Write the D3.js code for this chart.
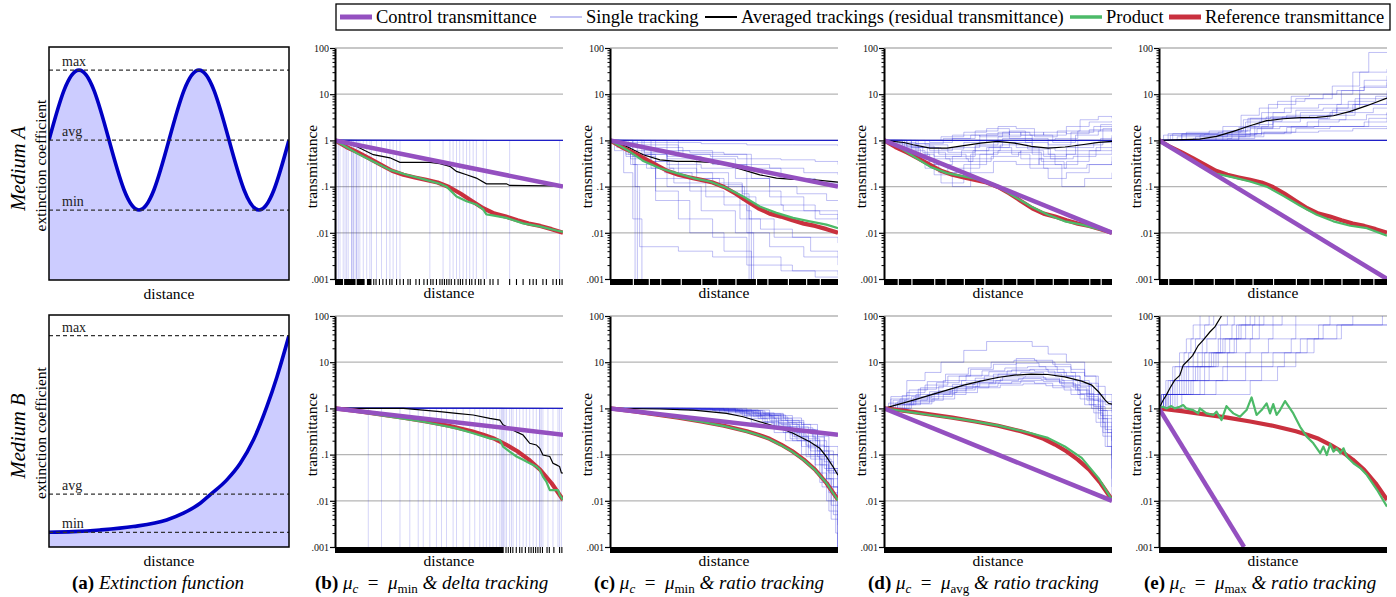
<!DOCTYPE html>
<html>
<head>
<meta charset="utf-8">
<script src="https://cdn.jsdelivr.net/npm/d3@7"></script>
<style>
  body { margin: 0; background: #fff; }
  svg { display: block; }
  svg text { font-family: "Liberation Serif", Tinos, "Times New Roman", "DejaVu Serif", serif; }
</style>
</head>
<body>
<svg id="chart" width="1396" height="597"></svg>
<script>
// ================= data =================
const legendNames = ["Control transmittance", "Single tracking",
  "Averaged trackings (residual transmittance)", "Product", "Reference transmittance"];
const yTicks = [100, 10, 1, 0.1, 0.01, 0.001];
const yTickLabels = ["100", "10", "1", ".1", ".01", ".001"];
const gridValues = [100, 10, 1, 0.1, 0.01];

// (a) extinction functions, distance 0..100
const extDistA = [0, 6.25, 12.5, 18.75, 25, 31.25, 37.5, 43.75, 50, 56.25, 62.5, 68.75, 75, 81.25, 87.5, 93.75, 100];
const extMuA = [2, 2.71, 3, 2.71, 2, 1.29, 1, 1.29, 2, 2.71, 3, 2.71, 2, 1.29, 1, 1.29, 2];
const extDistB = [0, 10, 21.2, 35.1, 49, 56, 63, 67.1, 74.1, 79.7, 85.2, 90.8, 95, 100];
const extMuB = [1, 1.05, 1.16, 1.39, 1.84, 2.3, 2.98, 3.55, 4.57, 5.7, 7.3, 9.57, 11.6, 14.4];
const levelNames = ["min", "avg", "max"];
const levelsA = [1, 2, 3];
const levelsB = [1, 3.6, 14.4];

// reference transmittance [distance, T]
const refA = [[0,1],[5,.72],[10,.55],[15,.41],[20,.30],[25,.22],[30,.18],[35,.158],[40,.14],[45,.123],[50,.098],
  [55,.071],[60,.049],[65,.034],[70,.026],[75,.0224],[80,.0186],[85,.0158],[90,.0141],[95,.012],[100,.01]];
const refB = [[0,1],[10,.87],[20,.74],[30,.63],[40,.52],[50,.42],[60,.32],[65,.27],[70,.22],[75,.165],
  [80,.118],[85,.078],[90,.047],[95,.024],[100,.0105]];

// control transmittance
const ctrlA_min = [[0,1],[100,0.1]];
const ctrlA_avg = [[0,1],[100,0.01]];
const ctrlA_max = [[0,1],[100,0.001]];
const ctrlB_min = [[0,1],[100,0.27]];
const ctrlB_avg = [[0,1],[100,0.01]];
const ctrlB_max = [[0,1],[37.3,0.001]];

// product
const prodA_b = [[0,1],[9.5,.53],[16.8,.35],[24.1,.23],[31.4,.18],[38.7,.145],[46,.115],[48.9,.1],[50.4,.085],[53.3,.061],
  [57.7,.048],[62,.041],[65,.032],[66.4,.025],[67.9,.0245],[75.2,.021],[82.5,.016],[89.8,.0138],[97.1,.0112],[100,.0105]];
const prodA_c = [[0,1],[7.3,.63],[14.6,.36],[21.9,.25],[29.2,.196],[36.5,.153],[43.8,.129],[51.1,.093],[58.4,.061],
  [65.7,.037],[73,.027],[80.3,.021],[87.6,.0177],[94.9,.015],[100,.0126]];
const prodA_d = [[0,1],[5.5,.77],[12.9,.45],[20.2,.27],[27.6,.196],[35,.166],[42.4,.14],[49.8,.1],[57.2,.061],
  [64.5,.037],[71.9,.0245],[79.3,.0177],[86.7,.015],[94.1,.012],[100,.01]];
const prodA_e = [[0,1],[10.6,.49],[17.9,.28],[25.2,.19],[32.6,.158],[39.9,.129],[47.2,.1],[54.5,.063],[61.9,.0385],
  [69.2,.0245],[76.5,.0177],[83.9,.0142],[91.2,.0126],[100,.0087]];
const prodB_b = [[0,1],[24.1,.66],[38.7,.515],[46,.437],[53.3,.37],[60.6,.29],[67.9,.225],[72.3,.207],[73.7,.149],
  [76.6,.116],[79.6,.091],[82.5,.077],[85.4,.065],[88.3,.055],[89.8,.047],[91.2,.0335],[92.7,.026],[94.2,.017],
  [97.8,.017],[98.5,.0135],[100,.0105]];
const prodB_c = [[0,1],[10,.87],[20,.73],[30,.62],[40,.515],[50,.415],[60,.315],[65,.265],[70,.215],[75,.16],
  [80,.115],[85,.076],[90,.046],[95,.024],[100,.0102]];
const prodB_d = [[0,1],[20.2,.72],[35,.57],[49.8,.43],[64.5,.29],[71.9,.23],[79.3,.15],[86.7,.085],[94.1,.031],[100,.0105]];
const prodB_e = [[0,1],[1.8,1.09],[3.2,1],[5.4,1.12],[6.9,1],[9.1,1.09],[10.6,1.18],[12,1],[15,.92],[17.2,.78],[17.9,1],
  [20.8,.78],[23.8,.72],[25.2,.85],[27.4,.56],[29.6,1.12],[31.1,.92],[32.6,.78],[35.5,.66],[38.4,.92],[40.6,1.73],
  [42.8,.72],[45,.92],[47.2,1.28],[48.7,.78],[50.1,1.24],[51.6,.72],[53.1,.92],[55.3,1.44],[58.9,.78],[61.9,.40],
  [64.8,.245],[67.7,.176],[70.7,.107],[72.1,.149],[73.6,.098],[75.1,.17],[76.5,.116],[78,.137],[79.5,.107],
  [80.9,.137],[82.4,.09],[85.3,.065],[88.3,.051],[91.2,.036],[95.6,.0173],[100,.0075]];

// averaged trackings
const avgA_b = [[0,1],[9.5,.74],[16.8,.49],[24.1,.42],[28.5,.334],[41.6,.334],[46,.313],[50.4,.274],[53.3,.213],
  [57.7,.18],[62,.153],[66.4,.115],[75.2,.115],[76.6,.106],[100,.103]];
const avgA_c = [[0,1],[7.3,.74],[14.6,.49],[21.9,.38],[29.2,.35],[36.5,.35],[43.8,.333],[51.1,.295],[58.4,.23],
  [65.7,.18],[73,.153],[80.3,.143],[87.6,.143],[100,.125]];
const avgA_d = [[0,1],[8.7,.9],[12.8,.805],[20.2,.68],[27.6,.68],[35,.77],[42.4,.875],[49.8,.95],[57.2,.875],
  [64.6,.74],[72,.68],[79.4,.72],[86.8,.805],[94.2,.905],[100,.95]];
const avgA_e = [[0,1],[17.9,1.07],[25.2,1.22],[32.6,1.57],[39.9,2.08],[47.2,2.67],[54.5,2.94],[61.9,3.1],
  [69.2,3.15],[76.5,3.42],[83.9,4.25],[91.2,5.64],[100,8.26]];
const avgB_b = [[0,1],[30,1],[38.7,.92],[46,.85],[53.3,.78],[60.6,.72],[67.9,.61],[72.3,.56],[73.7,.44],[76.6,.37],
  [79.6,.31],[82.5,.265],[85.4,.176],[88.3,.162],[89.8,.137],[91.2,.098],[94.2,.091],[95.6,.065],[97.1,.06],
  [98.5,.055],[99.3,.04],[100,.04]];
const avgB_c = [[0,1],[21.9,.97],[36.5,.92],[51.1,.78],[58.4,.66],[65.7,.515],[73,.40],[80.3,.29],[87.6,.19],
  [92,.137],[94.9,.09],[97.8,.055],[100,.036]];
const avgB_d = [[0,1],[12.9,1.51],[20.2,1.94],[27.6,2.49],[35,3.19],[42.4,3.89],[49.8,4.67],[57.2,5.24],[64.5,5.5],
  [71.9,5.42],[79.3,4.82],[86.7,3.89],[91.1,3.19],[94.1,2.29],[97,1.51],[98.5,1.28],[100,1.24]];
const avgB_e = [[0,1],[1.8,1.5],[3.2,1.94],[4.7,2.7],[6.9,4.1],[9.1,5.2],[10.6,8.6],[12.8,11],[14.8,14.1],
  [17.2,23],[19.4,30],[22.3,45],[24.5,58],[27.4,100]];

// delta tracking: distance at which each single tracking dropped to zero
const deltaEndA = [0.7,1.5,2.2,3.6,4.4,5.1,5.8,7.3,7.3,8,8,8.8,9.5,9.5,10.2,10.9,12.4,13.9,15.3,16,18.2,20.4,22.6,
  24.1,25.5,27,28.5,41.6,47.4,50.4,51.8,53.3,54.7,56.2,57.7,59.1,60.6,62,65,66.4,76.6,98.5];
const deltaEndB = [14.6,20.4,28.5,32.8,36.5,38.7,41.6,44.5,46.7,48.9,51.8,53.3,56.2,59.1,61.3,63.5,65,66.4,67.9,
  69.3,70.8,72.3,73,73.7,73.7,74.5,75.2,76.6,77.4,78.1,79.6,81,82.5,83.9,85.4,86.9,88.3,89.8,89.8,90.5,91.2,93.4,
  95.6,97.8,98.5,99.3];

// ratio tracking: single trackings as [distance, T] steps
const tracksA_c = [
  [[0,1],[3,.8],[8,.5],[11,1e-4]],
  [[0,1],[5,.7],[9,.3],[12,1e-4]],
  [[0,1],[2,.6],[6,.2],[10,.02],[14,1e-4]],
  [[0,1],[6,.75],[15,.55],[25,.45],[40,.4],[55,.3],[70,.25],[85,.2],[100,.18]],
  [[0,1],[4,.85],[12,.7],[20,.6],[35,.55],[50,.5],[62,.4],[75,.38],[90,.35],[100,.3]],
  [[0,1],[8,.6],[18,.35],[30,.2],[45,.12],[58,.05],[61,1e-4]],
  [[0,1],[10,.45],[20,.15],[35,.08],[50,.04],[60,.01],[63,1e-4]],
  [[0,1],[5,.8],[15,.5],[25,.3],[40,.25],[55,.15],[70,.06],[85,.03],[100,.02]],
  [[0,1],[12,.5],[25,.1],[40,.03],[55,.01],[70,.005],[85,.003],[100,.002]],
  [[0,1],[7,.5],[20,.05],[35,.01],[50,.004],[62,1e-4]],
  [[0,1],[15,.8],[30,.6],[45,.5],[60,.25],[75,.15],[90,.12],[100,.1]],
  [[0,1],[4,.9],[20,.9],[40,.85],[60,.8],[80,.8],[100,.75]],
  [[0,1],[10,.3],[20,.08],[30,.02],[45,.008],[60,.003],[75,.0015],[90,.0011],[100,.0011]],
  [[0,1],[18,.25],[28,.12],[42,.06],[57,.02],[72,.008],[88,.004],[100,.003]],
  [[0,1],[25,.4],[38,.2],[52,.08],[60,.03],[62,1e-4]],
  [[0,1],[30,.5],[45,.3],[60,.08],[75,.04],[90,.02],[100,.015]],
  [[0,1],[3,.7],[9,.4],[16,.25],[24,.2],[36,.15],[48,.11],[58,.07],[61,.02],[66,.012],[80,.008],[100,.006]],
  [[0,1],[2,.9],[7,.45],[11,.1],[13,.005],[30,.004],[45,.003],[60,.002],[80,.0015],[100,.0012]],
  [[0,1],[20,.7],[32,.5],[44,.45],[56,.4],[62,.15],[70,.1],[82,.07],[95,.05],[100,.05]],
  [[0,1],[14,.35],[26,.25],[38,.15],[50,.1],[59,.06],[64,.04],[76,.03],[92,.025],[100,.02]]
];
const tracksA_d = [
  [[0,1],[8,.8],[15,.5],[22,.3],[30,.45],[40,.8],[50,1.2],[60,1.5],[70,1.3],[80,2],[90,2.5],[100,2.6]],
  [[0,1],[10,.6],[18,.25],[25,.12],[35,.3],[45,.7],[55,.9],[65,.5],[75,.3],[85,.6],[95,1.1],[100,1.2]],
  [[0,1],[6,.85],[20,.6],[30,.7],[42,1.3],[55,1.6],[62,1.1],[72,.8],[82,1.5],[92,2],[100,2.1]],
  [[0,1],[12,.5],[20,.3],[28,.2],[38,.5],[48,.9],[58,.7],[68,.3],[78,.1],[88,.15],[100,.2]],
  [[0,1],[15,.7],[25,.65],[35,.9],[45,1.4],[55,1.1],[65,.7],[75,.6],[85,1],[100,1.3]],
  [[0,1],[8,.65],[16,.35],[24,.2],[32,.25],[42,.5],[50,.6],[60,.4],[70,.25],[80,.35],[90,.5],[100,.6]],
  [[0,1],[20,.9],[30,1.1],[40,1.6],[50,2],[58,1.8],[66,1.2],[76,1.6],[86,2.8],[94,3.3],[100,3]],
  [[0,1],[10,.75],[22,.45],[34,.6],[46,.7],[56,.5],[64,.25],[72,.15],[80,.2],[90,.3],[100,.45]],
  [[0,1],[5,.9],[14,.4],[22,.18],[30,.1],[38,.2],[48,.35],[58,.3],[68,.4],[80,.7],[92,.9],[100,.8]],
  [[0,1],[18,.8],[28,.55],[40,.75],[52,1.1],[62,.9],[72,.5],[84,.8],[96,1.8],[100,1.9]],
  [[0,1],[25,1.2],[35,1.5],[45,1.8],[55,1.3],[65,1],[75,1.1],[85,1.6],[95,2.2],[100,2.2]],
  [[0,1],[12,.7],[24,.5],[36,.4],[48,.55],[60,.6],[70,.45],[80,.5],[90,.6],[100,.9]],
  [[0,1],[14,.85],[26,1.1],[38,1.3],[50,1.5],[60,1.3],[70,1.5],[80,1.4],[90,1.7],[100,1.5]],
  [[0,1],[9,.7],[19,.4],[29,.35],[39,.6],[51,.8],[63,.65],[73,.4],[83,.45],[93,.7],[100,.7]],
  [[0,1],[30,1.3],[42,1.2],[52,1.5],[64,1.3],[74,.9],[84,1.3],[94,1.6],[100,1.8]],
  [[0,1],[7,.75],[17,.55],[27,.4],[37,.35],[47,.45],[59,.55],[69,.35],[79,.25],[89,.3],[100,.35]]
];
const tracksA_e = [
  [[0,1],[10,1.4],[30,1.4],[45,2],[60,2],[80,2],[100,2]],
  [[0,1],[5,1.3],[25,1.3],[35,1.9],[50,3],[65,3],[75,4],[85,6],[100,7]],
  [[0,1],[8,1.2],[30,1.5],[38,2.5],[45,4],[55,5],[70,6],[80,12],[90,20],[100,25]],
  [[0,1],[15,1.1],[32,1.6],[40,3],[48,6],[60,8],[72,10],[85,30],[92,80],[100,80]],
  [[0,1],[20,1.05],[35,1.3],[45,1.5],[60,1.8],[75,2],[90,2.5],[100,3]],
  [[0,1],[12,1.5],[28,2],[36,3.5],[44,5],[52,7],[64,8],[76,15],[88,30],[100,35]],
  [[0,1],[25,1.2],[40,1.8],[50,2.5],[62,3],[74,3.5],[86,6],[100,10]],
  [[0,1],[18,1.3],[34,1.3],[42,1.4],[58,2],[70,2.8],[82,4],[94,5],[100,5]],
  [[0,1],[30,1.1],[42,2.2],[50,4],[58,9],[66,10],[78,12],[90,15],[100,18]],
  [[0,1],[6,1.4],[22,1.6],[37,2.8],[47,3.2],[62,4],[78,5],[88,10],[100,12]],
  [[0,1],[35,1.2],[46,1.5],[56,1.9],[68,2],[80,2],[92,3],[100,4]],
  [[0,1],[10,1.35],[40,1.4],[55,1.5],[70,1.6],[85,1.8],[100,1.9]],
  [[0,1],[4,1.4],[26,1.5],[36,2],[44,2.6],[54,3.2],[66,3.4],[76,4.5],[86,8],[100,9]],
  [[0,1],[16,1.2],[38,2],[48,3],[56,3.5],[68,3.5],[78,6],[88,14],[100,20]],
  [[0,1],[2,1.3],[20,1.35],[43,1.8],[53,2],[65,2.5],[79,2.8],[91,3.6],[100,4]],
  [[0,1],[28,1.6],[39,3],[49,3.2],[60,4.5],[72,5],[83,7],[95,9],[100,9]]
];
const tracksB_c = [
  [[0,1],[30,.97],[50,.9],[60,.75],[70,.55],[78,.35],[85,.2],[92,.08],[97,.02],[100,.005]],
  [[0,1],[40,.95],[55,.8],[65,.6],[73,.4],[80,.25],[87,.1],[93,.03],[97,.008],[100,.001]],
  [[0,1],[25,.98],[45,.9],[58,.7],[68,.5],[76,.3],[84,.15],[90,.06],[95,.02],[100,.01]],
  [[0,1],[35,.9],[52,.75],[62,.5],[72,.3],[80,.2],[88,.12],[94,.05],[100,.03]],
  [[0,1],[45,.92],[60,.8],[70,.65],[78,.5],[85,.3],[91,.12],[96,.04],[100,.02]],
  [[0,1],[38,.95],[55,.85],[66,.7],[75,.45],[83,.25],[90,.1],[95,.03],[98,.005],[100,.0008]],
  [[0,1],[50,.95],[62,.8],[72,.6],[80,.4],[87,.22],[92,.1],[96,.05],[100,.04]],
  [[0,1],[30,.93],[48,.82],[60,.6],[69,.38],[77,.2],[84,.1],[90,.04],[95,.01],[99,.002],[100,.0005]],
  [[0,1],[55,.9],[66,.75],[76,.5],[84,.35],[90,.2],[95,.1],[100,.06]],
  [[0,1],[42,.97],[58,.88],[68,.72],[77,.55],[85,.35],[91,.15],[96,.03],[100,.003]],
  [[0,1],[33,.96],[52,.86],[63,.66],[72,.42],[79,.22],[86,.09],[92,.025],[96,.006],[100,.001]],
  [[0,1],[60,.92],[70,.7],[80,.45],[88,.28],[94,.15],[100,.09]],
  [[0,1],[48,.9],[64,.7],[74,.4],[82,.2],[88,.08],[93,.02],[97,.004],[100,.0006]],
  [[0,1],[36,.98],[56,.9],[67,.78],[76,.62],[84,.45],[91,.25],[96,.1],[100,.05]],
  [[0,1],[28,.95],[46,.86],[59,.68],[67,.52],[74,.36],[81,.24],[87,.14],[92,.06],[96,.015],[100,.004]],
  [[0,1],[44,.94],[57,.78],[66,.62],[74,.48],[82,.3],[89,.16],[94,.07],[98,.02],[100,.008]],
  [[0,1],[52,.93],[65,.76],[75,.55],[83,.38],[89,.24],[94,.12],[98,.04],[100,.015]],
  [[0,1],[32,.97],[50,.88],[61,.72],[71,.46],[79,.28],[86,.16],[91,.09],[95,.045],[100,.012]]
];
const tracksB_d = [
  [[0,1],[5,1.3],[12,1.8],[20,2.3],[30,3.3],[40,4.5],[50,5.5],[60,6],[70,5.5],[78,4],[85,2.5],[90,1.2],[95,.4],[100,.2]],
  [[0,1],[4,1.5],[10,2.2],[18,3.2],[28,5],[38,7],[48,9],[58,9.5],[68,8],[76,6],[84,4],[90,2],[96,.6],[100,.3]],
  [[0,1],[8,1.2],[16,1.5],[26,2],[36,2.8],[46,3.5],[56,3.8],[66,3.5],[74,2.8],[82,2],[88,1.2],[93,.5],[97,.15],[100,.05]],
  [[0,1],[3,1.8],[10,4],[18,6],[25,10],[35,18],[45,28],[58,28],[65,22],[72,15],[80,10],[88,5],[94,2],[100,1]],
  [[0,1],[6,1.4],[14,2],[24,3],[34,4],[44,5],[54,6.5],[64,7],[72,6],[80,5],[86,3],[92,1.5],[96,.5],[100,.02]],
  [[0,1],[10,1.3],[20,1.8],[30,2.5],[40,3],[50,3.5],[60,4],[70,3.8],[78,3],[85,2],[91,1],[96,.3],[100,.1]],
  [[0,1],[7,1.6],[15,2.6],[23,3.6],[33,5],[43,6.5],[53,7.5],[63,8],[71,7],[79,5],[86,3.5],[91,2],[95,.9],[100,.8]],
  [[0,1],[12,1.4],[22,2.2],[32,3],[42,4],[52,4.8],[62,5],[70,4.5],[77,3.5],[84,2.5],[89,1.5],[94,.6],[98,.15],[100,.01]],
  [[0,1],[4,1.2],[14,1.6],[24,2.4],[36,3.6],[48,5.5],[58,12],[66,11],[74,9],[82,7],[88,5],[93,3],[97,1.2],[100,.6]],
  [[0,1],[9,1.5],[19,2],[29,2.7],[39,3.4],[49,4],[59,4.4],[69,4.2],[77,3.6],[83,2.8],[89,1.8],[94,.9],[98,.3],[100,.2]],
  [[0,1],[2,1.3],[8,1.9],[16,2.8],[26,4],[36,5.2],[46,6.2],[56,6.8],[66,6.4],[75,5],[83,3.2],[90,1.6],[95,.7],[100,.4]],
  [[0,1],[6,1.2],[13,1.7],[21,2.1],[31,2.9],[41,3.7],[51,4.3],[61,4.6],[71,4.1],[79,3.2],[86,2.1],[92,1.1],[97,.35],[100,.08]],
  [[0,1],[3,1.6],[11,2.5],[19,3.8],[27,5.5],[37,7.5],[47,10],[57,11],[67,10],[75,8],[82,6],[88,3.5],[94,1.4],[100,.9]],
  [[0,1],[11,1.25],[21,1.6],[31,2.2],[41,2.8],[51,3.2],[61,3.4],[71,3.1],[79,2.5],[86,1.6],[92,.8],[96,.25],[100,.03]]
];
const tracksB_e = [
  [[0,1],[2,2],[5,4],[9,8],[13,16],[16,32],[20,64],[24,128]],
  [[0,1],[3,2],[8,4],[12,8],[17,16],[21,32],[27,64],[33,128]],
  [[0,1],[1,2],[4,4],[7,8],[11,16],[14,32],[18,64],[22,128]],
  [[0,1],[4,2],[10,4],[15,8],[22,16],[28,32],[35,64],[42,128]],
  [[0,1],[6,2],[12,4],[18,8],[25,16],[31,32],[38,64],[46,128]],
  [[0,1],[2,2],[9,4],[16,8],[24,16],[33,32],[41,64],[50,128]],
  [[0,1],[5,2],[14,4],[22,8],[30,16],[40,32],[50,64],[60,128]],
  [[0,1],[8,2],[18,4],[28,8],[38,16],[48,32],[60,64],[75,128]],
  [[0,1],[3,2],[15,4],[30,8],[45,16],[58,32],[72,64],[100,64]],
  [[0,1],[10,2],[25,4],[38,8],[50,16],[65,32],[80,64],[98,128]],
  [[0,1],[1,2],[6,4],[10,8],[15,16],[19,32],[25,64],[30,128]],
  [[0,1],[7,2],[13,4],[20,8],[26,16],[34,32],[44,64],[54,128]],
  [[0,1],[2,2],[40,4],[52,8],[60,16],[68,32],[78,64],[100,64]],
  [[0,1],[5,2],[20,4],[45,8],[55,16],[62,32],[70,64],[85,128]],
  [[0,1],[1,2],[3,4],[6,8],[9,16],[12,32],[15,64],[18,128]],
  [[0,1],[3,2],[7,4],[11,8],[19,16],[26,32],[32,64],[38,128]],
  [[0,1],[4,2],[11,4],[17,8],[23,16],[29,32],[36,64],[44,128]],
  [[0,1],[2,2],[6,4],[13,8],[20,16],[27,32],[34,64],[40,128]]
];

// sample positions along the distance axis (rug): single ticks and solid runs
const rugTicksA_b = [17,18,19.5,21,22.5,24,25,27,28.5,30,32,33,35.5,37,39,40.5,42,43,44.5,46,47,48,49,50,51,52.5,
  54,55,56,57.5,59,60,61.5,63,64,65.5,68,69.3,71.5,76.6,79.6,82.5,85.4,86.9,88.3,91.2,92.7,95.6,97.1,98.5,99.6];
const rugBandsA_b = [[0,3.5],[4,9],[9.5,13],[14,16]];
const rugBandsA_c = [[0,10],[10.5,17],[17.5,22],[22.5,31],[31.5,40],[40.5,47],[47.5,55],[55.5,64],[64.5,69],[69.5,78],
  [78.5,86],[86.5,92],[92.5,100]];
const rugBandsA_d = [[0,6],[6.5,12],[12.5,22],[22.5,27],[27.5,35],[35.5,44],[44.5,52],[52.5,58],[58.5,66],[66.5,74],
  [74.5,81],[81.5,90],[90.5,95],[95.5,100]];
const rugBandsA_e = [[0,4],[4.5,15],[15.5,24],[24.5,33],[33.5,41],[41.5,50],[50.5,60],[60.5,66],[66.5,72],[72.5,80],
  [80.5,88],[88.5,94],[94.5,100]];
const rugTicksB_b = [75,76,77,78,79.5,81,82,83.5,85,86,87,88,89,90,91,93,94,96,98.5,99.5];
const rugBandsB_b = [[0,74]];
const rugBandsB_full = [[0,100]];

// captions
const captionTags = ["(a)", "(b)", "(c)", "(d)", "(e)"];
const captionSubs = [null, "min", "min", "avg", "max"];
const captionTails = ["Extinction function", "delta tracking", "ratio tracking", "ratio tracking", "ratio tracking"];

// ================= layout & style =================
const colors = { ctrl: "#9450c0", track: "#3030dc", avg: "#000", prod: "#4cba68", ref: "#c9303e" };
const rowTop = [48, 316];
const plotH = 231;
const colLeft = [335, 610, 884, 1159];
const plotW = 228;

const svg = d3.select("#chart");

const deltaTrack = (d) => [[0, 1], [d, 1], [d, 1e-5]];

const panels = [
  { row: 0, col: 0, ctrl: ctrlA_min, ref: refA, prod: prodA_b, avg: avgA_b, tracks: deltaEndA.map(deltaTrack), rugTicks: rugTicksA_b, rugBands: rugBandsA_b, unit: true, op: 0.2 },
  { row: 0, col: 1, ctrl: ctrlA_min, ref: refA, prod: prodA_c, avg: avgA_c, tracks: tracksA_c, rugTicks: [], rugBands: rugBandsA_c, unit: true, op: 0.3 },
  { row: 0, col: 2, ctrl: ctrlA_avg, ref: refA, prod: prodA_d, avg: avgA_d, tracks: tracksA_d, rugTicks: [], rugBands: rugBandsA_d, unit: true, op: 0.3 },
  { row: 0, col: 3, ctrl: ctrlA_max, ref: refA, prod: prodA_e, avg: avgA_e, tracks: tracksA_e, rugTicks: [], rugBands: rugBandsA_e, unit: true, op: 0.3 },
  { row: 1, col: 0, ctrl: ctrlB_min, ref: refB, prod: prodB_b, avg: avgB_b, tracks: deltaEndB.map(deltaTrack), rugTicks: rugTicksB_b, rugBands: rugBandsB_b, unit: true, op: 0.2 },
  { row: 1, col: 1, ctrl: ctrlB_min, ref: refB, prod: prodB_c, avg: avgB_c, tracks: tracksB_c, rugTicks: [], rugBands: rugBandsB_full, unit: false, op: 0.32 },
  { row: 1, col: 2, ctrl: ctrlB_avg, ref: refB, prod: prodB_d, avg: avgB_d, tracks: tracksB_d, rugTicks: [], rugBands: rugBandsB_full, unit: false, op: 0.32 },
  { row: 1, col: 3, ctrl: ctrlB_max, ref: refB, prod: prodB_e, avg: avgB_e, tracks: tracksB_e, rugTicks: [], rugBands: rugBandsB_full, unit: false, op: 0.3 }
];

// ================= transmittance panels =================
panels.forEach((p, i) => {
  const x0 = colLeft[p.col], y0 = rowTop[p.row];
  const x = d3.scaleLinear().domain([0, 100]).range([x0, x0 + plotW]);
  const y = d3.scaleLog().domain([0.001, 100]).range([y0 + plotH, y0]);
  const g = svg.append("g");

  // grid
  g.selectAll(".grid").data(gridValues).enter().append("line")
    .attr("x1", x0).attr("x2", x0 + plotW)
    .attr("y1", (d) => y(d)).attr("y2", (d) => y(d))
    .attr("stroke", "#b5b5b5").attr("stroke-width", 1.3);

  const clipId = "clip" + i;
  svg.append("clipPath").attr("id", clipId).append("rect")
    .attr("x", x0).attr("y", y0).attr("width", plotW).attr("height", plotH);
  const pg = g.append("g").attr("clip-path", `url(#${clipId})`);

  const line = d3.line().x((d) => x(d[0])).y((d) => y(Math.max(d[1], 1e-6)));
  const step = d3.line().curve(d3.curveStepAfter).x((d) => x(d[0])).y((d) => y(Math.max(d[1], 1e-6)));

  // single trackings
  pg.selectAll(".track").data(p.tracks).enter().append("path")
    .attr("d", step).attr("fill", "none")
    .attr("stroke", colors.track).attr("stroke-opacity", p.op).attr("stroke-width", 1);
  if (p.unit) {
    pg.append("path").attr("d", line([[0, 1], [100, 1]]))
      .attr("stroke", "#1f1fc8").attr("stroke-width", 1.4).attr("fill", "none");
  }

  pg.append("path").attr("d", line(p.avg)).attr("fill", "none")
    .attr("stroke", colors.avg).attr("stroke-width", 1.2);
  pg.append("path").attr("d", line(p.ref)).attr("fill", "none")
    .attr("stroke", colors.ref).attr("stroke-width", 4.2).attr("stroke-linejoin", "round");
  pg.append("path").attr("d", line(p.prod)).attr("fill", "none")
    .attr("stroke", colors.prod).attr("stroke-width", 2.2).attr("stroke-linejoin", "round");
  pg.append("path").attr("d", line(p.ctrl)).attr("fill", "none")
    .attr("stroke", colors.ctrl).attr("stroke-width", 4.5);

  // rug of sample positions
  g.selectAll(".rugband").data(p.rugBands).enter().append("rect")
    .attr("x", (d) => x(d[0])).attr("width", (d) => x(d[1]) - x(d[0]))
    .attr("y", y0 + plotH).attr("height", 6).attr("fill", "#000");
  g.selectAll(".rugtick").data(p.rugTicks).enter().append("line")
    .attr("x1", (d) => x(d)).attr("x2", (d) => x(d))
    .attr("y1", y0 + plotH).attr("y2", y0 + plotH + 6)
    .attr("stroke", "#000").attr("stroke-width", 1.1);

  // y axis
  const minor = y.ticks().filter((v) => !yTicks.some((t) => Math.abs(t - v) < 1e-9));
  const ax = g.append("g").attr("transform", `translate(${x0},0)`)
    .call(d3.axisLeft(y).tickValues(yTicks).tickFormat((d, k) => yTickLabels[k])
      .tickSize(5).tickSizeOuter(0).tickPadding(1));
  ax.attr("font-family", null);
  ax.select(".domain").attr("stroke-width", 2);
  ax.selectAll(".tick line").attr("stroke-width", 1.2);
  ax.selectAll("text").attr("font-size", 10).attr("fill", "#111");
  g.append("g").attr("transform", `translate(${x0},0)`)
    .call(d3.axisLeft(y).tickValues(minor).tickFormat("").tickSize(2.5).tickSizeOuter(0))
    .call((s) => s.select(".domain").remove());

  // titles
  g.append("text").attr("transform", `translate(${x0 - 18},${y0 + plotH / 2 + 3}) rotate(-90)`)
    .attr("text-anchor", "middle").attr("font-size", 15.5).text("transmittance");
  g.append("text").attr("x", x0 + plotW / 2).attr("y", y0 + plotH + 19)
    .attr("text-anchor", "middle").attr("font-size", 15.5).text("distance");
});

// ================= panel (a): extinction functions =================
const extPanels = [
  { top: 47, bottom: 280, yMax: 3.33, dist: extDistA, mu: extMuA, levels: levelsA, name: "Medium A", curve: d3.curveNatural },
  { top: 315, bottom: 547, yMax: 15.8, dist: extDistB, mu: extMuB, levels: levelsB, name: "Medium B", curve: d3.curveMonotoneX }
];
extPanels.forEach((e, i) => {
  const x = d3.scaleLinear().domain([0, 100]).range([49, 289]);
  const y = d3.scaleLinear().domain([0, e.yMax]).range([e.bottom, e.top]);
  const pts = e.dist.map((d, k) => [d, e.mu[k]]);
  const g = svg.append("g");
  const clipId = "aclip" + i;
  svg.append("clipPath").attr("id", clipId).append("rect")
    .attr("x", 49).attr("y", e.top).attr("width", 240).attr("height", e.bottom - e.top);
  const pg = g.append("g").attr("clip-path", `url(#${clipId})`);
  pg.append("path").datum(pts)
    .attr("d", d3.area().curve(e.curve).x((d) => x(d[0])).y0(y(0)).y1((d) => y(d[1])))
    .attr("fill", "#ccccff");
  pg.append("path").datum(pts)
    .attr("d", d3.line().curve(e.curve).x((d) => x(d[0])).y((d) => y(d[1])))
    .attr("fill", "none").attr("stroke", "#0000c4").attr("stroke-width", 3.6);
  g.selectAll(".lvl").data(e.levels).enter().append("line")
    .attr("x1", 49).attr("x2", 289).attr("y1", (d) => y(d)).attr("y2", (d) => y(d))
    .attr("stroke", "#333").attr("stroke-width", 1.2).attr("stroke-dasharray", "4,3");
  g.selectAll(".lvlname").data(e.levels).enter().append("text")
    .attr("x", 62).attr("y", (d) => y(d) - 4).attr("font-size", 14).attr("fill", "#222")
    .text((d, k) => levelNames[k]);
  g.append("rect").attr("x", 49).attr("y", e.top).attr("width", 240).attr("height", e.bottom - e.top)
    .attr("fill", "none").attr("stroke", "#000").attr("stroke-width", 1.5);
  const cy = (e.top + e.bottom) / 2;
  g.append("text").attr("transform", `translate(18,${cy + 5}) rotate(-90)`).attr("dy", "0.35em")
    .attr("text-anchor", "middle").attr("font-size", 20.5).attr("font-style", "italic").text(e.name);
  g.append("text").attr("transform", `translate(41,${cy + 2}) rotate(-90)`).attr("dy", "0.35em")
    .attr("text-anchor", "middle").attr("font-size", 15.5).text("extinction coefficient");
  g.append("text").attr("x", 169).attr("y", e.bottom + 19)
    .attr("text-anchor", "middle").attr("font-size", 15.5).text("distance");
});

// ================= legend =================
const legendSwatch = [
  { x: 340, w: 32, color: colors.ctrl, sw: 5 },
  { x: 550, w: 32, color: "#b4b4f0", sw: 1.6 },
  { x: 705, w: 32, color: "#000", sw: 2 },
  { x: 1070, w: 32, color: colors.prod, sw: 3.5 },
  { x: 1169, w: 32, color: colors.ref, sw: 5 }
];
const legendTextX = [376, 586, 741, 1106, 1205];
svg.append("rect").attr("x", 336).attr("y", 4).attr("width", 1054).attr("height", 26)
  .attr("fill", "#fff").attr("stroke", "#000").attr("stroke-width", 1.3);
legendNames.forEach((name, i) => {
  const s = legendSwatch[i];
  svg.append("line").attr("x1", s.x).attr("x2", s.x + s.w).attr("y1", 17).attr("y2", 17)
    .attr("stroke", s.color).attr("stroke-width", s.sw);
  svg.append("text").attr("x", legendTextX[i]).attr("y", 23).attr("font-size", 18.5).text(name);
});

// ================= captions =================
const captionX = [72, 315, 594, 868, 1144];
captionTags.forEach((tag, i) => {
  const t = svg.append("text").attr("x", captionX[i]).attr("y", 589).attr("font-size", 19);
  t.append("tspan").attr("font-weight", "bold").text(tag + " ");
  if (captionSubs[i]) {
    t.append("tspan").attr("font-style", "italic").text("μ");
    t.append("tspan").attr("font-style", "italic").attr("font-size", 13).attr("dy", 4).text("c");
    t.append("tspan").attr("dy", -4).text("\u2002=\u2002");
    t.append("tspan").attr("font-style", "italic").text("μ");
    t.append("tspan").attr("font-size", 13).attr("dy", 4).text(captionSubs[i]);
    t.append("tspan").attr("dy", -4).attr("font-style", "italic").text(" & " + captionTails[i]);
  } else {
    t.append("tspan").attr("font-style", "italic").text(captionTails[i]);
  }
});
</script>
</body>
</html>
